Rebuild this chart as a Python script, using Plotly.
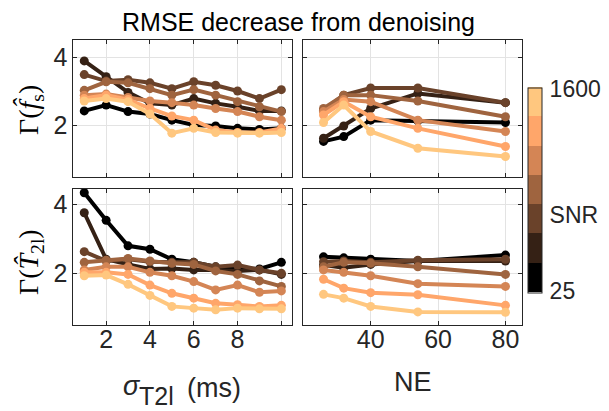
import plotly.graph_objects as go

W, H = 609, 411
OFF = 8  # page body margin of the html page (px)

# ---- data ----
snr_levels = [25, 50, 100, 200, 400, 800, 1600]
sigma_t2l = [1, 2, 3, 4, 5, 6, 7, 8, 9, 10]
ne_values = [26, 32, 40, 54, 80]

# Gamma(f_s) vs sigma_T2l, one row per SNR (25 -> 1600)
fs_sigma = [
    [2.43, 2.60, 2.41, 2.34, 2.16, 2.02, 1.99, 1.92, 1.89, 1.92],
    [3.89, 3.43, 2.97, 2.65, 2.60, 2.79, 2.65, 2.55, 2.43, 2.43],
    [3.49, 3.30, 3.34, 3.25, 3.08, 3.28, 3.18, 3.01, 2.79, 3.05],
    [3.03, 3.28, 3.25, 3.08, 2.89, 3.05, 2.89, 2.70, 2.55, 2.41],
    [2.89, 2.92, 2.82, 2.72, 2.67, 2.60, 2.50, 2.41, 2.26, 2.16],
    [2.79, 2.89, 2.76, 2.50, 2.28, 2.16, 1.87, 1.80, 1.80, 1.92],
    [2.72, 2.79, 2.70, 2.34, 1.78, 1.92, 1.80, 1.78, 1.78, 1.80],
]
# Gamma(f_s) vs NE
fs_ne = [
    [1.54, 1.68, 2.16, 2.14, 2.09],
    [1.63, 1.99, 2.50, 2.94, 2.67],
    [2.45, 2.89, 3.10, 3.10, 2.67],
    [2.50, 2.89, 2.89, 2.72, 2.26],
    [2.41, 2.76, 2.70, 2.16, 1.83],
    [2.31, 2.70, 2.26, 1.92, 1.39],
    [2.09, 2.60, 1.83, 1.34, 1.10],
]
# Gamma(T2l) vs sigma_T2l
t2_sigma = [
    [4.34, 3.54, 2.80, 2.70, 2.41, 2.32, 2.19, 2.14, 2.13, 2.32],
    [3.76, 2.41, 2.26, 2.13, 2.14, 2.10, 2.10, 2.07, 2.10, 1.97],
    [2.63, 2.36, 2.41, 2.34, 2.32, 2.32, 2.19, 2.24, 2.10, 2.00],
    [2.32, 2.38, 2.43, 2.36, 2.29, 2.26, 2.07, 1.97, 1.78, 1.62],
    [2.10, 2.19, 2.19, 2.03, 1.93, 1.76, 1.52, 1.66, 1.45, 1.49],
    [2.03, 2.03, 1.97, 1.66, 1.42, 1.28, 1.13, 1.09, 1.04, 1.07],
    [1.93, 1.95, 1.68, 1.36, 1.04, 0.99, 0.94, 0.99, 0.97, 0.97],
]
# Gamma(T2l) vs NE
t2_ne = [
    [2.48, 2.45, 2.41, 2.36, 2.53],
    [2.24, 2.16, 2.26, 2.36, 2.36],
    [2.34, 2.36, 2.32, 2.38, 2.41],
    [2.19, 2.32, 2.29, 2.19, 1.97],
    [2.10, 2.03, 1.93, 1.70, 1.62],
    [1.83, 1.57, 1.44, 1.38, 1.07],
    [1.39, 1.28, 1.04, 0.88, 0.87],
]

x_left_ticks = [2, 4, 6, 8, 10]
x_left_ticktext = ["2", "4", "6", "8", ""]
x_right_ticks = [40, 60, 80]
y_ticks = [2, 4]

# copper colormap, 7 levels
def copper(t):
    r = min(1.0, 1.25 * t)
    g = 0.7812 * t
    b = 0.4975 * t
    return "rgb(%d,%d,%d)" % (round(r * 255), round(g * 255), round(b * 255))

n = len(snr_levels)
colors = [copper(k / (n - 1)) for k in range(n)]

fig = go.Figure()

def px_x(p):
    return (p - OFF) / W

def px_y(p):
    return 1 - (p - OFF) / H

panels = [
    ("x", "y", sigma_t2l, fs_sigma),
    ("x2", "y2", ne_values, fs_ne),
    ("x3", "y3", sigma_t2l, t2_sigma),
    ("x4", "y4", ne_values, t2_ne),
]
for xa, ya, xs, series in panels:
    for k in range(n):
        fig.add_trace(go.Scatter(
            x=xs, y=series[k], mode="lines+markers",
            line=dict(color=colors[k], width=4),
            marker=dict(color=colors[k], size=9),
            xaxis=xa, yaxis=ya, showlegend=False, hoverinfo="skip",
        ))

font_sans = "Liberation Sans, Arial, sans-serif"

# discrete colorbar
cs = []
for k in range(n):
    cs.append([k / n, colors[k]])
    cs.append([(k + 1) / n, colors[k]])
bar_top, bar_bot = 87.5, 292.5
cbar = dict(
    x=px_x(528), xanchor="left", xpad=0, ypad=0,
    y=px_y((bar_top + bar_bot) / 2), yanchor="middle",
    len=(bar_bot - bar_top) / H, lenmode="fraction",
    thickness=14, thicknessmode="pixels",
    outlinewidth=1, outlinecolor="#262626",
    tickvals=[0.05, 2.66, n - 0.05],
    ticktext=["25", "SNR", "1600"],
    ticks="outside", ticklen=3, tickcolor="rgba(0,0,0,0)",
    tickfont=dict(family=font_sans, size=23, color="#262626"),
)
fig.add_trace(go.Scatter(
    x=[None], y=[None], mode="markers", xaxis="x", yaxis="y", showlegend=False,
    marker=dict(color=[0], cmin=0, cmax=n, colorscale=cs, showscale=True, colorbar=cbar),
))

tickfont = dict(family=font_sans, size=25, color="#262626")
axis_common = dict(
    showline=True, linecolor="#262626", linewidth=1, mirror="ticks",
    ticks="inside", ticklen=4, tickcolor="#262626", tickwidth=1,
    showgrid=True, gridcolor="#e3e3e3", gridwidth=1, zeroline=False,
    tickfont=tickfont,
)

xl = [px_x(73.3), px_x(292.3)]
xr = [px_x(303.3), px_x(522.3)]
yt = [px_y(177), px_y(40)]
yb = [px_y(325), px_y(189)]

fig.update_layout(
    width=W, height=H, margin=dict(l=0, r=0, t=0, b=0),
    paper_bgcolor="white", plot_bgcolor="white",
    xaxis=dict(domain=xl, range=[0.5, 10.5], tickvals=x_left_ticks, ticktext=x_left_ticktext,
               showticklabels=False, anchor="y", **axis_common),
    yaxis=dict(domain=yt, range=[0.5, 4.5], tickvals=y_ticks, anchor="x", **axis_common),
    xaxis2=dict(domain=xr, range=[20, 85], tickvals=x_right_ticks, showticklabels=False,
                anchor="y2", **axis_common),
    yaxis2=dict(domain=yt, range=[0.5, 4.5], tickvals=y_ticks, showticklabels=False,
                anchor="x2", **axis_common),
    xaxis3=dict(domain=xl, range=[0.5, 10.5], tickvals=x_left_ticks, ticktext=x_left_ticktext,
                anchor="y3", ticklabelstandoff=-8, **axis_common),
    yaxis3=dict(domain=yb, range=[0.5, 4.45], tickvals=y_ticks, anchor="x3", **axis_common),
    xaxis4=dict(domain=xr, range=[20, 85], tickvals=x_right_ticks, anchor="y4",
                ticklabelstandoff=-8, **axis_common),
    yaxis4=dict(domain=yb, range=[0.5, 4.45], tickvals=y_ticks, showticklabels=False,
                anchor="x4", **axis_common),
)

def ann(x, y, text, font, **kw):
    fig.add_annotation(x=px_x(x), y=px_y(y), xref="paper", yref="paper", text=text,
                       showarrow=False, font=font, xanchor=kw.pop("xanchor", "center"),
                       yanchor="middle", **kw)

title_font = dict(family=font_sans, size=25, color="black")
label_font = dict(family=font_sans, size=27, color="#262626")
serif = dict(family="Liberation Serif, Times New Roman, serif", size=28, color="black")

ann(298.5, 22, "RMSE decrease from denoising", title_font)
# sigma_T2l (ms)
ann(132, 386, "<i>σ</i>", label_font)
ann(137, 396, "T2l", dict(family=font_sans, size=25, color="#262626"), xanchor="left",
    height=24)
ann(243, 388, "(ms)", label_font, xanchor="right")
ann(413, 382, "NE", label_font)
ann(30, 110, "Γ(<i>f̂</i><sub>s</sub>)", serif, textangle=-90)
ann(30, 262, "Γ(<i>T̂</i><sub>2l</sub>)", serif, textangle=-90)

fig.write_html("out.html")
